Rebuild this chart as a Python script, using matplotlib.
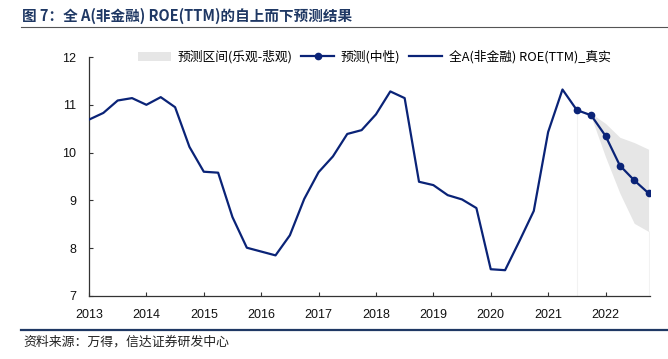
import matplotlib
matplotlib.use("Agg")
import matplotlib.pyplot as plt
from matplotlib.patches import Patch
from matplotlib.lines import Line2D

plt.rcParams['font.family'] = ['Noto Sans CJK SC', 'DejaVu Sans']

# ---- data ----
years = ['2013', '2014', '2015', '2016', '2017', '2018', '2019', '2020', '2021', '2022']
actual = [10.69, 10.83, 11.09, 11.14, 11.00, 11.16, 10.95, 10.12,
          9.60, 9.58, 8.65, 8.01, 7.93, 7.85, 8.27, 9.03,
          9.59, 9.92, 10.39, 10.47, 10.80, 11.28, 11.14, 9.39,
          9.32, 9.11, 9.02, 8.84, 7.56, 7.54, 8.15, 8.78,
          10.43, 11.32, 10.89]
forecast_mid = [10.89, 10.78, 10.35, 9.73, 9.42, 9.15]
forecast_up = [10.89, 10.82, 10.61, 10.32, 10.21, 10.07]
forecast_low = [10.89, 10.75, 9.91, 9.15, 8.52, 8.35]

navy = '#0a2377'
band = '#e6e6e6'

fig = plt.figure(figsize=(6.68, 3.59), dpi=100)
ax = fig.add_axes([89/668, 1-296/359, (650-89)/668, (296-57)/359])

x_act = list(range(len(actual)))
start = len(actual) - 1
x_fc = list(range(start, start + len(forecast_mid)))

ax.fill_between(x_fc, forecast_low, forecast_up, color=band, lw=0, zorder=1)
ax.vlines([x_fc[0]], 7, forecast_mid[0], color='#f2f2f2', lw=0.8, zorder=0)
ax.vlines([x_fc[-1]], 7, forecast_low[-1], color='#f2f2f2', lw=0.8, zorder=0)
ax.plot(x_act, actual, color=navy, lw=1.6, zorder=3)
ax.plot(x_fc, forecast_mid, color=navy, lw=1.6, marker='o', ms=4.5, zorder=4)

ax.set_xlim(0, 39.1)
ax.set_ylim(7, 12)
ax.set_yticks([7, 8, 9, 10, 11, 12])
ax.set_xticks([i * 4 for i in range(len(years))])
ax.set_xticklabels(years)
for s in ['top', 'right']:
    ax.spines[s].set_visible(False)
for s in ['left', 'bottom']:
    ax.spines[s].set_color('#333333')
    ax.spines[s].set_linewidth(0.9)
ax.tick_params(axis='both', direction='in', length=3, width=0.8, color='#333333',
               labelsize=9, labelcolor='#111111')
ax.tick_params(axis='x', pad=9)
ax.tick_params(axis='y', pad=9)
for lab in ax.get_xticklabels() + ax.get_yticklabels():
    lab.set_family(['Liberation Sans', 'DejaVu Sans'])

handles = [Patch(facecolor=band, edgecolor='none'),
           Line2D([], [], color=navy, lw=1.6, marker='o', ms=4.5),
           Line2D([], [], color=navy, lw=1.6)]
labels = ['预测区间(乐观-悲观)', '预测(中性)', '全A(非金融) ROE(TTM)_真实']
fig.legend(handles, labels, loc='center', ncol=3, frameon=False,
           bbox_to_anchor=(374/668, 1-57/359),
           handlelength=2.6, handletextpad=0.5, columnspacing=0.7,
           prop={'family': ['Noto Sans CJK SC', 'DejaVu Sans'], 'size': 9.2})

fig.text(22/668, 1-16/359, '图 7：全 A(非金融) ROE(TTM)的自上而下预测结果',
         fontsize=10.5, fontweight='bold', color='#1f3864', va='center', ha='left')
fig.add_artist(Line2D([21/668, 1], [1-27/359, 1-27/359], color='#555555', lw=0.8))
fig.add_artist(Line2D([21/668, 1], [1-330/359, 1-330/359], color='#1f3864', lw=1.6))
fig.text(23/668, 1-342/359, '资料来源：万得，信达证券研发中心',
         fontsize=9.3, style='italic', color='#222222', va='center', ha='left')

fig.savefig('out.png', dpi=100)
